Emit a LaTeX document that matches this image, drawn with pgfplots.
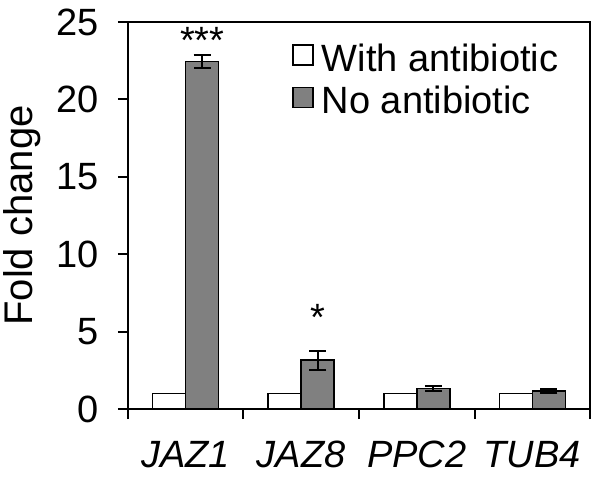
\documentclass[border=0pt]{standalone}
\usepackage{pgfplots}
\pgfplotsset{compat=1.18}
\usepackage{fontspec}
\setmainfont{Liberation Sans}
\definecolor{barGray}{RGB}{128,128,128}
\newcommand{\bigf}{\fontsize{19}{22}\selectfont}
\pgfplotsset{sqlegend/.style={legend image code/.code={\draw[##1] (0pt,-3pt) rectangle (10pt,7pt);}}}
\begin{document}
\begin{tikzpicture}
\begin{axis}[
  name=ax,
  scale only axis, width=231pt, height=193.5pt,
  xmin=-0.5, xmax=3.5, ymin=0, ymax=25,
  ybar=0pt, bar width=16.5pt,
  xtick={0,1,2,3}, xticklabels={\textit{JAZ1},\textit{JAZ8},\textit{PPC2},\textit{TUB4}},
  major x tick style={draw=none},
  minor xtick={-0.5,0.5,1.5,2.5,3.5},
  minor tick length=5pt, major tick length=5pt,
  ytick={0,5,10,15,20,25},
  tick align=outside, xtick pos=bottom, ytick pos=left,
  axis line style={line width=1pt},
  tick style={line width=1pt,black},
  /pgf/number format/assume math mode=true,
  tick label style={font=\bigf},
  yticklabel style={xshift=-6pt},
  xticklabel style={yshift=-7.5pt},
  ylabel={Fold change},
  ylabel style={font=\fontsize{20}{23}\selectfont, yshift=1pt},
  legend style={draw=none, fill=none, at={(rel axis cs:0.355,0.955)}, anchor=north west,
    font=\bigf, inner sep=0pt, row sep=2pt, legend cell align=left,
    /tikz/every odd column/.append style={column sep=2pt}},
]
\addplot[fill=white, draw=black, line width=0.75pt, sqlegend]
  coordinates {(0,1) (1,1) (2,1) (3,1)};
\addlegendentry{With antibiotic}
\addplot[fill=barGray, draw=black, line width=0.75pt, sqlegend,
  error bars/.cd, y dir=both, y explicit,
  error bar style={line width=1pt,black},
  error mark options={rotate=90, mark size=4.25pt, line width=1pt, black}]
  coordinates {(0,22.44) +- (0,0.43) (1,3.15) +- (0,0.6) (2,1.34) +- (0,0.15) (3,1.16) +- (0,0.12)};
\addlegendentry{No antibiotic}
\node[font=\bigf, anchor=base, inner sep=0pt] at (axis cs:0.143,22.95) {***};
\node[font=\bigf, anchor=base, inner sep=0pt] at (axis cs:1.143,5.05) {*};
\end{axis}
\draw[line width=1pt, line cap=rect] (ax.south west) -- (ax.north west) -- (ax.north east) -- (ax.south east);
\pgfresetboundingbox
\path ([shift={(-64pt,-34pt)}]ax.south west) rectangle ([shift={(5pt,11pt)}]ax.north east);
\end{tikzpicture}
\end{document}
